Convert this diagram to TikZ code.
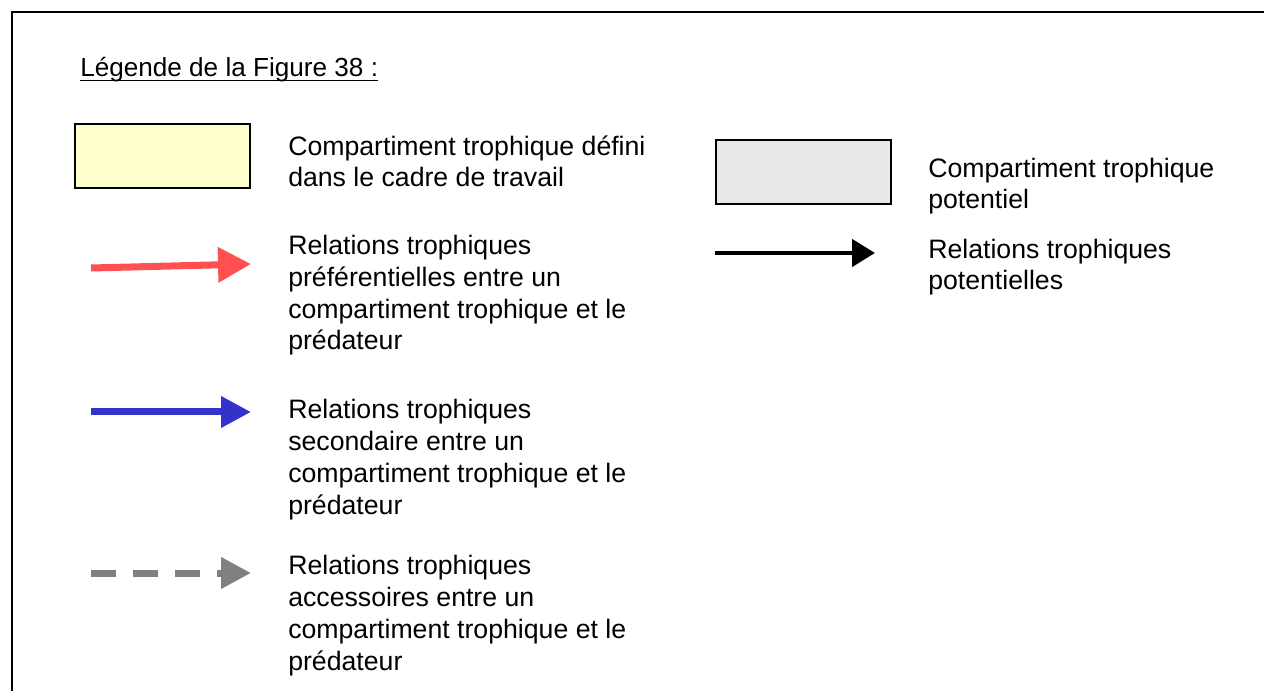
\documentclass[tikz,border=0pt]{standalone}
\usepackage{fontspec}
\setmainfont{Liberation Sans}
\usepackage{tikz}
\usetikzlibrary{arrows.meta,positioning}
\definecolor{pref}{HTML}{FF5050}
\definecolor{second}{HTML}{3333CC}
\definecolor{access}{HTML}{808080}
\definecolor{defini}{HTML}{FFFFCC}
\definecolor{potent}{HTML}{E8E8E8}
\tikzset{
    %Define style for the legend boxes
    compbox/.style={
           rectangle,
           draw=black, line width=1.5pt,
           minimum width=131.25pt,
           minimum height=48pt},
    %Define style for the legend texts (placed at the last baseline)
    legtext/.style={
           anchor=base west,
           inner sep=0pt,
           align=left,
           font=\fontsize{20}{23.8}\selectfont},
    % Define arrow styles
    prefarrow/.style={
           pref, line width=5.25pt,
           -{Triangle[length=24.75pt,width=25.5pt]}},
    secarrow/.style={
           second, line width=5.25pt,
           -{Triangle[length=22.5pt,width=22.5pt]}},
    accarrow/.style={
           access, line width=5.25pt,
           dash pattern=on 18.75pt off 12.75pt,
           -{Triangle[length=22.5pt,width=22.5pt]}},
    potarrow/.style={
           black, line width=3.5pt,
           -{Triangle[length=17.25pt,width=20.25pt]}}
}

\begin{document}
\begin{tikzpicture}[x=0.75pt,y=-0.75pt]
\useasboundingbox (0,0) rectangle (1264,691);

 %frame
\coordinate (fbot) at (12,691);
\coordinate (fcorner) at (12,12);
\coordinate (fright) at (1264,12);
\draw[line width=1.5pt] (fbot) -- (fcorner) -- (fright);

 %title
\node[legtext, font=\fontsize{19.6}{22}\selectfont] (title) at (80,77) {Légende de la Figure 38 :};
\draw[line width=1.1pt] ([yshift=-2.6pt]title.base west) -- ([yshift=-2.6pt]title.base east);

 %boxes
\node[compbox, fill=defini] (ybox) at (162.5,156) {};
\node[compbox, fill=potent] (gbox) at (803,172) {};

 %texts
\node[legtext] (t1) at (288,187) {Compartiment trophique défini\\dans le cadre de travail};
\node[legtext] (t2) at (288,350) {Relations trophiques\\préférentielles entre un\\compartiment trophique et le\\prédateur};
\node[legtext] (t3) at (288,514) {Relations trophiques\\secondaire entre un\\compartiment trophique et le\\prédateur};
\node[legtext] (t4) at (288,670) {Relations trophiques\\accessoires entre un\\compartiment trophique et le\\prédateur};
\node[legtext] (t5) at (928,209) {Compartiment trophique\\potentiel};
\node[legtext] (t6) at (928,290) {Relations trophiques\\potentielles};

 %arrows
\coordinate (r1) at (91,268);
\coordinate (r2) at (251,264);
\coordinate (b1) at (91,412);
\coordinate (b2) at (251,412);
\coordinate (g1) at (91,573);
\coordinate (g2) at (251,573);
\coordinate (k1) at (715,253);
\coordinate (k2) at (875,253);
\draw[prefarrow] (r1) -- (r2);
\draw[secarrow] (b1) -- (b2);
\draw[accarrow] (g1) -- (g2);
\draw[potarrow] (k1) -- (k2);

\end{tikzpicture}
\end{document}
